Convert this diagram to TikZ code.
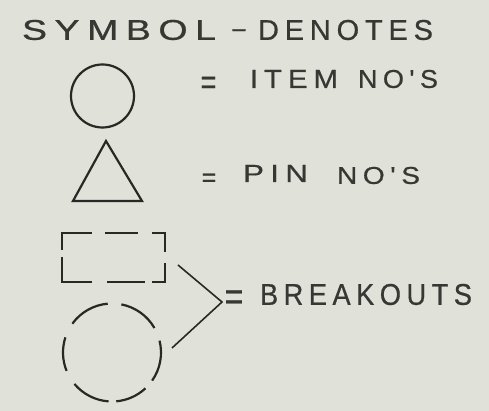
\documentclass[tikz,border=0pt]{standalone}
\usepackage{fontspec}
\usepackage{graphicx}
\newfontfamily\hand[FakeBold=0.6]{Liberation Sans}
\makeatletter
\def\spc#1{\spc@a#1\relax}
\def\spc@a#1#2{#1\ifx\relax#2\else\kern0.2em\relax\expandafter\spc@a\expandafter#2\fi}
\makeatother
\newcommand\lettr[3]{\resizebox{#1}{#2}{\hand\spc{#3}}}
\newcommand\eqsign[2]{\scalebox{1}[#2]{\fontsize{#1}{#1}\selectfont\hand =}}
\definecolor{paper}{RGB}{224,225,217}
\definecolor{ink}{RGB}{40,40,37}
\definecolor{inkT}{RGB}{55,55,51}
\tikzset{
  txt/.style={inner sep=0pt, outer sep=0pt, text=inkT, anchor=west},
  sym/.style={draw=ink, line width=2.2pt},
  dsh/.style={draw=ink, line width=2.2pt, line join=miter},
  brk/.style={draw=ink, line width=1.6pt}
}
\begin{document}
\begin{tikzpicture}[x=1pt,y=1pt]
\fill[paper] (0,0) rectangle (489,411);
\useasboundingbox (0,0) rectangle (489,411);
% title
\node[txt] (symw) at (22,381) {\lettr{194pt}{20pt}{SYMBOL}};
\node[txt, anchor=base] (hyph) at (239,375) {\scalebox{2.4}[1]{\fontsize{22}{22}\selectfont\hand -}};
\node[txt] (deno) at (258,381) {\lettr{175pt}{20pt}{DENOTES}};
% item
\node[sym, circle, minimum size=63pt, inner sep=0pt] (itemsym) at (102.5,315) {};
\node[txt, anchor=base] (eq1) at (208.5,317) {\eqsign{27}{1.3}};
\node[txt] (item) at (250,332) {\lettr{88pt}{18pt}{ITEM}};
\node[txt] (itemno) at (358,332) {\lettr{80pt}{18pt}{NO'S}};
% pin
\coordinate (tl) at (73,210);
\coordinate (tt) at (106,270);
\coordinate (tr) at (142,210);
\draw[sym, line join=miter] (tl) -- (tt) -- (tr) -- cycle;
\node[txt, anchor=base] (eq2) at (209,225) {\eqsign{25}{1}};
\node[txt] (pin) at (243,237.5) {\lettr{65pt}{17pt}{PIN}};
\node[txt] (pinno) at (337,235.5) {\lettr{83pt}{17pt}{NO'S}};
% breakouts: dashed rectangle
\draw[dsh] (62,161) -- (62,178) -- (92,178);
\draw[dsh] (105,178) -- (138,178);
\draw[dsh] (152,178) -- (165,178) -- (165,159);
\draw[dsh] (62,154) -- (62,129) -- (92,129);
\draw[dsh] (107,129) -- (145,129);
\draw[dsh] (152,129) -- (165,129) -- (165,148);
% dashed circle
\coordinate (bc) at (112,58.5);
\foreach \a/\b in {95/144, 30/79, -35/14, -85/-47, -140/-94, 162/202}
  \draw[dsh] (bc) ++(\a:49) arc[start angle=\a, end angle=\b, radius=49];
% bracket
\coordinate (brtop) at (178,146);
\coordinate (apex) at (222,109);
\coordinate (brbot) at (172,63);
\draw[brk] (brtop) -- (apex) -- (brbot);
\node[txt, anchor=base] (eq3) at (234,101) {\eqsign{32}{1.25}};
\node[txt] (brkw) at (260,116.5) {\lettr{212pt}{21pt}{BREAKOUTS}};
\end{tikzpicture}
\end{document}
